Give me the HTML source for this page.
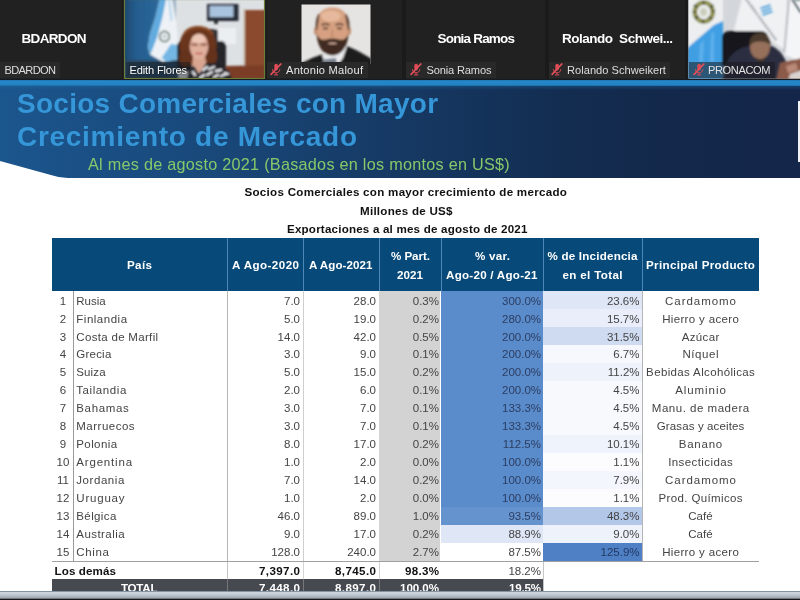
<!DOCTYPE html>
<html lang="es"><head><meta charset="utf-8"><title>Socios Comerciales con Mayor Crecimiento de Mercado</title>
<style>
html,body{margin:0;padding:0;}
body{width:800px;height:600px;overflow:hidden;background:#fff;position:relative;font-family:"Liberation Sans",Arial,sans-serif;}
.t{position:absolute;line-height:1;white-space:pre;}
.b{position:absolute;}
svg{position:absolute;display:block;}
</style></head><body>

<div class="b" style="left:0px;top:0px;width:800px;height:80px;background:#1b1b1b;"></div>
<div class="b" style="left:0px;top:0px;width:122px;height:78.5px;background:#212121;"></div>
<div class="b" style="left:267px;top:0px;width:135px;height:78.5px;background:#212121;"></div>
<div class="b" style="left:406px;top:0px;width:139px;height:78.5px;background:#212121;"></div>
<div class="b" style="left:549px;top:0px;width:136px;height:78.5px;background:#212121;"></div>
<svg style="left:0;top:0" width="800" height="80" viewBox="0 0 800 80">
<defs>
<filter id="f1" x="-10%" y="-10%" width="120%" height="120%"><feGaussianBlur stdDeviation="0.8"/></filter>
<filter id="f2" x="-10%" y="-10%" width="120%" height="120%"><feGaussianBlur stdDeviation="1.6"/></filter>
<clipPath id="cE"><rect x="125" y="0" width="139" height="78"/></clipPath>
<clipPath id="cA"><rect x="301.500" y="4.500" width="69" height="59.500"/></clipPath>
<clipPath id="cP"><rect x="688.500" y="0" width="111.500" height="78.500"/></clipPath>
<linearGradient id="gw" x1="0" x2="1"><stop offset="0" stop-color="#1b3f63"/><stop offset="0.3" stop-color="#245d8e"/><stop offset="1" stop-color="#2f6fa2"/></linearGradient>
</defs>
<!-- Edith Flores video -->
<g clip-path="url(#cE)">
 <rect x="125" y="0" width="139" height="78" fill="#dde1e4"/>
 <g filter="url(#f1)">
  <rect x="120" y="-4" width="53" height="86" fill="url(#gw)"/>
  <rect x="172" y="-4" width="4" height="86" fill="#9fb4c6"/>
  <rect x="120" y="60" width="58" height="22" fill="#2b4863"/>
  <!-- flag -->
  <path d="M160 -2 L172 -2 L176.300 22.500 L178.300 45 L177 58 L163 62 L150 54.500 L148 47 L150 34 L155.600 17 Z" fill="#eef2f6"/>
  <path d="M160 -2 L166.300 -2 L162.500 17 L157 37.500 L150.500 54.500 L148 47 L150 34 L155.600 17 Z" fill="#62abdf"/>
  <path d="M171 44 L178.300 45 L177.200 59 L167 62 L161.500 58 Z" fill="#74b7e4"/>
  <path d="M168 -2 L170 -2 L172.500 20 L170.500 22 Z" fill="#b5d6ee"/>
  <ellipse cx="164.500" cy="36.500" rx="4.800" ry="5.200" fill="none" stroke="#6c7d72" stroke-width="1.700"/>
  <ellipse cx="164.500" cy="36.500" rx="1.800" ry="2" fill="#b9c7c9"/>
  <!-- tv -->
  <rect x="207" y="4" width="31.500" height="17" fill="#262b35"/>
  <rect x="209.500" y="6" width="24" height="11" fill="#a9c2de"/>
  <rect x="214" y="21" width="4" height="3" fill="#333"/>
  <!-- wall papers -->
  <rect x="214" y="28" width="22" height="16" fill="#eceff1"/>
  <!-- door -->
  <rect x="243.500" y="9" width="2" height="57" fill="#c9b9aa"/>
  <rect x="245" y="10" width="22" height="56" fill="#8b4a2d"/>
  <!-- desk -->
  <path d="M226 66 L268 65 L268 82 L222 82 Z" fill="#7b3d27"/>
  <!-- chair -->
  <rect x="177" y="41" width="49" height="30" rx="5" fill="#26282b"/>
  <rect x="208" y="29" width="10" height="16" rx="3" fill="#34363a"/>
  <!-- hair -->
  <ellipse cx="198" cy="46" rx="18.500" ry="20" fill="#6b351c"/>
  <ellipse cx="185.500" cy="58" rx="6.500" ry="9" fill="#65321b"/>
  <ellipse cx="211.500" cy="56" rx="6" ry="9" fill="#65321b"/>
  <path d="M184 34 C190 25,206 25,213 34" stroke="#8a4a26" stroke-width="2.500" fill="none"/>
  <!-- neck -->
  <path d="M193 57 L205 57 L207 66 L199 73 L192 67 Z" fill="#d9a590"/>
  <!-- face -->
  <ellipse cx="199" cy="46.500" rx="9.300" ry="13" fill="#e0b09d"/>
  <ellipse cx="198.500" cy="39" rx="6.500" ry="4.500" fill="#ecc6b6"/>
  <path d="M191.500 45h6.300M200.500 45h6.300" stroke="#8a5a4a" stroke-width="1.500"/>
  <path d="M190.500 43.500h8M200 43.500h8" stroke="#a06a50" stroke-width=".8" opacity=".8"/>
  <path d="M195.500 53.500h7" stroke="#c0564e" stroke-width="1.500"/>
  <!-- clothes -->
  <path d="M187 82 L190 68 L194 66 L199 74 L206 63 L218 64 L229 71 L233 82 Z" fill="#20222b"/>
  <path d="M203 70l4 -3M209 69l5-2M216 71l5 -1M207 75l5-3M200 78l4 -3M221 76l5 -2M214 77l4-2M193 72l2 3M225 73l3 1" stroke="#e9e9ee" stroke-width="2.300" stroke-linecap="round"/>
 </g>
</g>
<rect x="124.500" y="-0.500" width="140" height="79" fill="none" stroke="#6b7c3a" stroke-width="1.200"/>
<!-- Antonio Malouf photo -->
<g clip-path="url(#cA)">
 <rect x="301" y="4" width="70" height="74" fill="#e5e4e2"/>
 <g filter="url(#f1)">
  <!-- suit -->
  <path d="M296 66 L312 58 L323 54 L332 60 L347 46 L358 51 L372 59 L372 80 L296 80 Z" fill="#1a1a1c"/>
  <!-- shirt + tie -->
  <path d="M322 55 L332 50 L347 46.500 L343 58 L337 66 L326 66 Z" fill="#ebebee"/>
  <path d="M323 59.500 L336 58 L338 70 L321 70 Z" fill="#76808c"/>
  <!-- ears / side hair -->
  <ellipse cx="316" cy="31" rx="2" ry="4" fill="#c48e70"/>
  <ellipse cx="349" cy="31" rx="2" ry="4" fill="#c48e70"/>
  <!-- head -->
  <path d="M316.500 30 C315.500 14,322 7.500,332.500 7.500 C343 7.500,349.500 14,348.500 30 C348.500 44,342 55,332.500 55 C323 55,316.500 44,316.500 30 Z" fill="#d6a081"/>
  <ellipse cx="331" cy="16" rx="10" ry="5.500" fill="#e6b99c"/>
  <path d="M345.500 14 C348.500 18,349.500 24,348.600 30 C347.500 26,346.500 20,345.500 14Z M319 14 C316.500 18,315.800 24,316.500 30 C317.500 26,318 20,319 14Z" fill="#5a4032" stroke="#5a4032" stroke-width="1.200"/>
  <!-- beard -->
  <path d="M316.500 33 C317 46,323 55.500,332.500 55.500 C342 55.500,348 46,348.600 33 C346.500 39,343 40.500,339 39.500 C335 38,330 38,326 39.500 C322 40.500,318.500 39,316.500 33 Z" fill="#3f2c22"/>
  <path d="M327.500 43.200 C330 42.200,335 42.200,337.500 43.200 C335 44.600,330 44.600,327.500 43.200Z" fill="#d9b3a0"/>
  <!-- brows, eyes, nose -->
  <path d="M321.500 25 C324 23.800,327 23.800,329.500 25M335.500 25 C338 23.800,341 23.800,343.500 25" stroke="#3a2a22" stroke-width="1.400" fill="none"/>
  <path d="M323 28.300h5M337 28.300h5" stroke="#4a3428" stroke-width="1.700"/>
  <path d="M332.500 29 L331.500 35.500 L334 35.500" stroke="#b98466" stroke-width="1.200" fill="none"/>
 </g>
</g>
<!-- PRONACOM video -->
<g clip-path="url(#cP)">
 <rect x="688" y="0" width="112" height="79" fill="#d3d6da"/>
 <g filter="url(#f1)">
  <!-- left flag -->
  <path d="M686 -2 L723 -2 L723 82 L686 82 Z" fill="#eceef0"/>
  <path d="M723 21 L723 82 L686 82 L686 49 L714 25 Z" fill="#3f9fe3"/>
  <path d="M700 44 L704 40 L703 62 L699 62Z M711 34 L714 31 L714 62 L710 62Z" fill="#6bb8ee" opacity=".7"/>
  <ellipse cx="703.800" cy="12" rx="9" ry="9.500" fill="none" stroke="#8f9150" stroke-width="4.600"/>
  <path d="M694 5l3.500 2.500M713 5l-3 3M695 18l3.500-1.500M712 19l-3.500-2M703.500 1v3.500M693 12h3M712 11h3M702 20l2 3" stroke="#3f4636" stroke-width="2"/>
  <ellipse cx="703.500" cy="12" rx="3.500" ry="4" fill="#c9cdb8"/>
  <!-- centre banner -->
  <path d="M742 -2 L788 -2 L785 50 L770 40 L734 30 Z" fill="#f0f1f3"/>
  <path d="M746 -1 L776 40" stroke="#8a9098" stroke-width="2.400" stroke-dasharray="2.200 1.300"/>
  <path d="M752 6 L764 24" stroke="#aab0b8" stroke-width="1.200" stroke-dasharray="1.500 1.500"/>
  <path d="M760.500 8.500l10-3.500M761.500 11.800l10-3.500M762.500 15l10-3.500" stroke="#36a3dc" stroke-width="2.100"/>
  <!-- right flag -->
  <path d="M784.500 52 L789 -2" stroke="#aeb2b8" stroke-width="2"/>
  <path d="M790 -2 L802 -2 L802 62 L785 55 Z" fill="#f4f5f6"/>
  <path d="M792 -1 L801 13" stroke="#35505c" stroke-width="2.200"/>
  <path d="M795 0h6" stroke="#4b7a6a" stroke-width="2"/>
  <!-- chair -->
  <path d="M722 66 L722 38 Q722 31 730 31 L760 31 Q768 31 768 38 L768 66 Z" fill="#15161a"/>
  <!-- man -->
  <path d="M726 64 C730 54,738 48,748 46 L772 46 C780 50,784 56,787 64 L790 82 L722 82 Z" fill="#2a2f40"/>
  <ellipse cx="760" cy="47" rx="10" ry="12.500" fill="#96705a"/>
  <path d="M750.200 44 C750 30,770 30,770 44 C766 39.500,754 39.500,750.200 44Z" fill="#4c3b2e" stroke="#4c3b2e" stroke-width="1.500"/>
  <path d="M756 57 C758 60,763 60,765 57 L764 62 L757 62Z" fill="#3a2f2a"/>
  <!-- hands / desk -->
  <path d="M780 63 L802 58 L802 82 L776 82 Z" fill="#8c5a4a"/>
  <path d="M786 66 L796 63 L798 70 L788 73Z" fill="#b98a78"/>
  <path d="M790 74 L802 70 L802 82 L788 82Z" fill="#d9d2cf"/>
 </g>
</g>
</svg>

<div class="t" style="left:21.50px;top:32.49px;font-size:13.5px;font-weight:700;color:#fff;letter-spacing:-0.666px;">BDARDON</div>
<div class="t" style="left:437.50px;top:32.49px;font-size:13.5px;font-weight:700;color:#fff;letter-spacing:-0.802px;">Sonia Ramos</div>
<div class="t" style="left:562.00px;top:32.49px;font-size:13.5px;font-weight:700;color:#fff;letter-spacing:-0.486px;">Rolando  Schwei...</div>
<div class="b" style="left:0px;top:62px;width:60px;height:15.8px;background:#292929;"></div>
<div class="t" style="left:4.50px;top:64.55px;font-size:11.1px;color:#dedede;letter-spacing:-0.668px;">BDARDON</div>
<div class="b" style="left:126px;top:62px;width:64px;height:15.8px;background:rgba(20,25,30,0.45);"></div>
<div class="t" style="left:129.50px;top:64.55px;font-size:11.1px;color:#fff;letter-spacing:-0.156px;text-shadow:0 0 2px rgba(0,0,0,.6);">Edith Flores</div>
<div class="b" style="left:267px;top:62px;width:101px;height:15.8px;background:#292929;"></div>
<div class="t" style="left:286.00px;top:64.55px;font-size:11.1px;color:#e6e6e6;letter-spacing:0.228px;">Antonio Malouf</div>
<div class="b" style="left:406px;top:62px;width:90px;height:15.8px;background:#292929;"></div>
<div class="t" style="left:426.50px;top:64.55px;font-size:11.1px;color:#dedede;letter-spacing:-0.163px;">Sonia Ramos</div>
<div class="b" style="left:549px;top:62px;width:121px;height:15.8px;background:#292929;"></div>
<div class="t" style="left:567.00px;top:64.55px;font-size:11.1px;color:#dedede;letter-spacing:0.017px;">Rolando Schweikert</div>
<div class="b" style="left:689px;top:62px;width:86px;height:15.8px;background:rgba(25,25,30,0.55);"></div>
<div class="t" style="left:708.00px;top:64.55px;font-size:11.1px;color:#e2e2e2;letter-spacing:-0.410px;">PRONACOM</div>
<svg style="left:269.5px;top:63px" width="12" height="13" viewBox="0 0 12 13"><rect x="4.300" y="0.800" width="3.600" height="6.800" rx="1.800" fill="#de4a55"/><path d="M2.400 6.200c0 2.300 1.600 3.600 3.700 3.600s3.700-1.300 3.700-3.600M6.100 9.800v1.800M4 11.900h4.200" stroke="#de4a55" stroke-width="1" fill="none"/><path d="M11.300 0.500L0.600 11.800" stroke="#e2505a" stroke-width="1.700"/></svg>
<svg style="left:410px;top:63px" width="12" height="13" viewBox="0 0 12 13"><rect x="4.300" y="0.800" width="3.600" height="6.800" rx="1.800" fill="#de4a55"/><path d="M2.400 6.200c0 2.300 1.600 3.600 3.700 3.600s3.700-1.300 3.700-3.600M6.100 9.800v1.800M4 11.900h4.200" stroke="#de4a55" stroke-width="1" fill="none"/><path d="M11.300 0.500L0.600 11.800" stroke="#e2505a" stroke-width="1.700"/></svg>
<svg style="left:551px;top:63px" width="12" height="13" viewBox="0 0 12 13"><rect x="4.300" y="0.800" width="3.600" height="6.800" rx="1.800" fill="#de4a55"/><path d="M2.400 6.200c0 2.300 1.600 3.600 3.700 3.600s3.700-1.300 3.700-3.600M6.100 9.800v1.800M4 11.900h4.200" stroke="#de4a55" stroke-width="1" fill="none"/><path d="M11.300 0.500L0.600 11.800" stroke="#e2505a" stroke-width="1.700"/></svg>
<svg style="left:693px;top:63px" width="12" height="13" viewBox="0 0 12 13"><rect x="4.300" y="0.800" width="3.600" height="6.800" rx="1.800" fill="#de4a55"/><path d="M2.400 6.200c0 2.300 1.600 3.600 3.700 3.600s3.700-1.300 3.700-3.600M6.100 9.800v1.800M4 11.900h4.200" stroke="#de4a55" stroke-width="1" fill="none"/><path d="M11.300 0.500L0.600 11.800" stroke="#e2505a" stroke-width="1.700"/></svg>
<div class="b" style="left:0px;top:78.5px;width:800px;height:2px;background:#171c22;"></div>
<div class="b" style="left:0px;top:79.8px;width:800px;height:5.9px;background:linear-gradient(180deg,#1e6ea6 0,#2587c8 1px,#2284c4 4.5px,#1d6aa2 5.9px);"></div>
<div class="b" style="left:0px;top:85.5px;width:800px;height:92px;background:linear-gradient(90deg,#1b568d 0%,#1a4f84 12%,#19497b 25%,#173f6c 40%,#15365f 55%,#132d51 70%,#13284a 85%,#14264a 100%);"></div>
<div class="b" style="left:0px;top:85.5px;width:800px;height:4px;background:linear-gradient(180deg,rgba(30,110,170,.35),rgba(30,110,170,0));"></div>
<div class="b" style="left:798.3px;top:100.8px;width:1.7px;height:61.2px;background:#f1f3f5;"></div>
<svg style="left:0;top:150px" width="90" height="30" viewBox="0 0 90 30"><path d="M0 11 L30 19.300 L50 24.800 Q59 28 68 28 L90 28 L90 30 L0 30 Z" fill="#fff"/></svg>
<div class="t" style="left:17.00px;top:90.10px;font-size:28px;font-weight:700;color:#3596d8;letter-spacing:0.263px;">Socios Comerciales con Mayor</div>
<div class="t" style="left:17.00px;top:122.90px;font-size:28px;font-weight:700;color:#3596d8;letter-spacing:0.706px;">Crecimiento de Mercado</div>
<div class="t" style="left:88.00px;top:155.59px;font-size:16.2px;color:#86c86a;letter-spacing:0.276px;">Al mes de agosto 2021 (Basados en los montos en US$)</div>
<div class="t" style="left:244.50px;top:186.41px;font-size:11.6px;font-weight:700;color:#111;letter-spacing:0.274px;">Socios Comerciales con mayor crecimiento de mercado</div>
<div class="t" style="left:360.00px;top:204.91px;font-size:11.6px;font-weight:700;color:#111;letter-spacing:0.254px;">Millones de US$</div>
<div class="t" style="left:287.00px;top:223.41px;font-size:11.6px;font-weight:700;color:#111;letter-spacing:0.199px;">Exportaciones a al mes de agosto de 2021</div>
<div class="b" style="left:52px;top:238.2px;width:707px;height:52.900000000000034px;background:#074a79;"></div>
<div class="b" style="left:226.5px;top:238.2px;width:1px;height:52.900000000000034px;background:#4d87b6;"></div>
<div class="b" style="left:302.5px;top:238.2px;width:1px;height:52.900000000000034px;background:#4d87b6;"></div>
<div class="b" style="left:378.7px;top:238.2px;width:1px;height:52.900000000000034px;background:#4d87b6;"></div>
<div class="b" style="left:441.3px;top:238.2px;width:1px;height:52.900000000000034px;background:#4d87b6;"></div>
<div class="b" style="left:543px;top:238.2px;width:1px;height:52.900000000000034px;background:#4d87b6;"></div>
<div class="b" style="left:642px;top:238.2px;width:1px;height:52.900000000000034px;background:#4d87b6;"></div>
<div class="t" style="left:127.00px;top:258.91px;font-size:11.6px;font-weight:700;color:#fff;letter-spacing:0.379px;">País</div>
<div class="t" style="left:232.00px;top:258.91px;font-size:11.6px;font-weight:700;color:#fff;letter-spacing:0.450px;">A Ago-2020</div>
<div class="t" style="left:309.00px;top:258.91px;font-size:11.6px;font-weight:700;color:#fff;letter-spacing:0.061px;">A Ago-2021</div>
<div class="t" style="left:391.00px;top:250.41px;font-size:11.6px;font-weight:700;color:#fff;letter-spacing:-0.054px;">% Part.</div>
<div class="t" style="left:397.00px;top:268.91px;font-size:11.6px;font-weight:700;color:#fff;letter-spacing:0.066px;">2021</div>
<div class="t" style="left:475.00px;top:250.41px;font-size:11.6px;font-weight:700;color:#fff;letter-spacing:0.293px;">% var.</div>
<div class="t" style="left:446.00px;top:268.91px;font-size:11.6px;font-weight:700;color:#fff;letter-spacing:0.260px;">Ago-20 / Ago-21</div>
<div class="t" style="left:547.50px;top:250.41px;font-size:11.6px;font-weight:700;color:#fff;letter-spacing:0.213px;">% de Incidencia</div>
<div class="t" style="left:562.50px;top:268.91px;font-size:11.6px;font-weight:700;color:#fff;letter-spacing:0.350px;">en el Total</div>
<div class="t" style="left:646.00px;top:258.91px;font-size:11.6px;font-weight:700;color:#fff;letter-spacing:0.346px;">Principal Producto</div>
<div class="b" style="left:378.7px;top:291px;width:61.800000000000026px;height:270px;background:#d3d3d3;"></div>
<div class="b" style="left:441.3px;top:291px;width:101.69999999999999px;height:234px;background:#5a8bca;"></div>
<div class="b" style="left:441.3px;top:507px;width:101.69999999999999px;height:18px;background:#6593ce;"></div>
<div class="b" style="left:441.3px;top:525px;width:101.69999999999999px;height:18px;background:#dfe6f6;"></div>
<div class="b" style="left:543px;top:291px;width:99px;height:18px;background:#dfe7f7;"></div>
<div class="b" style="left:543px;top:309px;width:99px;height:18px;background:#e9eefa;"></div>
<div class="b" style="left:543px;top:327px;width:99px;height:18px;background:#cfdbf1;"></div>
<div class="b" style="left:543px;top:345px;width:99px;height:18px;background:#f6f8fd;"></div>
<div class="b" style="left:543px;top:363px;width:99px;height:18px;background:#eef2fb;"></div>
<div class="b" style="left:543px;top:381px;width:99px;height:18px;background:#f8f9fd;"></div>
<div class="b" style="left:543px;top:399px;width:99px;height:18px;background:#f8f9fd;"></div>
<div class="b" style="left:543px;top:417px;width:99px;height:18px;background:#f8f9fd;"></div>
<div class="b" style="left:543px;top:435px;width:99px;height:18px;background:#eff3fb;"></div>
<div class="b" style="left:543px;top:453px;width:99px;height:18px;background:#fcfcff;"></div>
<div class="b" style="left:543px;top:471px;width:99px;height:18px;background:#f3f6fc;"></div>
<div class="b" style="left:543px;top:489px;width:99px;height:18px;background:#fcfcff;"></div>
<div class="b" style="left:543px;top:507px;width:99px;height:18px;background:#b3c7e8;"></div>
<div class="b" style="left:543px;top:525px;width:99px;height:18px;background:#eef2fb;"></div>
<div class="b" style="left:543px;top:543px;width:99px;height:18px;background:#4f7fc4;"></div>
<div class="b" style="left:73px;top:291px;width:1px;height:270px;background:#9a9a9a;"></div>
<div class="b" style="left:226.5px;top:291px;width:1px;height:270px;background:#b5b5b5;"></div>
<div class="b" style="left:302.5px;top:291px;width:1px;height:270px;background:#cfcfcf;"></div>
<div class="b" style="left:642px;top:291px;width:1px;height:270px;background:#b5b5b5;"></div>
<div class="b" style="left:226.5px;top:561px;width:1px;height:18px;background:#c5c5c5;"></div>
<div class="b" style="left:302.5px;top:561px;width:1px;height:18px;background:#d5d5d5;"></div>
<div class="b" style="left:378.7px;top:561px;width:1px;height:18px;background:#d5d5d5;"></div>
<div class="b" style="left:543px;top:561px;width:1px;height:30px;background:#c5c5c5;"></div>
<div class="b" style="left:52px;top:561px;width:707px;height:1px;background:#a0a0a0;"></div>
<div class="t" style="left:59.80px;top:295.66px;font-size:11.5px;color:#444;">1</div>
<div class="t" style="left:76.30px;top:295.66px;font-size:11.5px;color:#444;letter-spacing:-0.038px;">Rusia</div>
<div class="t" style="left:284.01px;top:295.66px;font-size:11.5px;color:#444;">7.0</div>
<div class="t" style="left:353.62px;top:295.66px;font-size:11.5px;color:#444;">28.0</div>
<div class="t" style="left:412.79px;top:295.66px;font-size:11.5px;color:#444;">0.3%</div>
<div class="t" style="left:502.00px;top:295.66px;font-size:11.5px;color:#2c3e63;">300.0%</div>
<div class="t" style="left:606.89px;top:295.66px;font-size:11.5px;color:#444;">23.6%</div>
<div class="t" style="left:665.00px;top:295.66px;font-size:11.5px;color:#444;letter-spacing:0.967px;">Cardamomo</div>
<div class="t" style="left:59.80px;top:313.60px;font-size:11.5px;color:#444;">2</div>
<div class="t" style="left:76.30px;top:313.60px;font-size:11.5px;color:#444;letter-spacing:0.511px;">Finlandia</div>
<div class="t" style="left:284.01px;top:313.60px;font-size:11.5px;color:#444;">5.0</div>
<div class="t" style="left:353.62px;top:313.60px;font-size:11.5px;color:#444;">19.0</div>
<div class="t" style="left:412.79px;top:313.60px;font-size:11.5px;color:#444;">0.2%</div>
<div class="t" style="left:502.00px;top:313.60px;font-size:11.5px;color:#2c3e63;">280.0%</div>
<div class="t" style="left:606.89px;top:313.60px;font-size:11.5px;color:#444;">15.7%</div>
<div class="t" style="left:662.15px;top:313.60px;font-size:11.5px;color:#444;letter-spacing:0.345px;">Hierro y acero</div>
<div class="t" style="left:59.80px;top:331.54px;font-size:11.5px;color:#444;">3</div>
<div class="t" style="left:76.30px;top:331.54px;font-size:11.5px;color:#444;letter-spacing:0.316px;">Costa de Marfil</div>
<div class="t" style="left:277.62px;top:331.54px;font-size:11.5px;color:#444;">14.0</div>
<div class="t" style="left:353.62px;top:331.54px;font-size:11.5px;color:#444;">42.0</div>
<div class="t" style="left:412.79px;top:331.54px;font-size:11.5px;color:#444;">0.5%</div>
<div class="t" style="left:502.00px;top:331.54px;font-size:11.5px;color:#2c3e63;">200.0%</div>
<div class="t" style="left:606.89px;top:331.54px;font-size:11.5px;color:#444;">31.5%</div>
<div class="t" style="left:681.75px;top:331.54px;font-size:11.5px;color:#444;letter-spacing:0.342px;">Azúcar</div>
<div class="t" style="left:59.80px;top:349.48px;font-size:11.5px;color:#444;">4</div>
<div class="t" style="left:76.30px;top:349.48px;font-size:11.5px;color:#444;letter-spacing:0.226px;">Grecia</div>
<div class="t" style="left:284.01px;top:349.48px;font-size:11.5px;color:#444;">3.0</div>
<div class="t" style="left:360.01px;top:349.48px;font-size:11.5px;color:#444;">9.0</div>
<div class="t" style="left:412.79px;top:349.48px;font-size:11.5px;color:#444;">0.1%</div>
<div class="t" style="left:502.00px;top:349.48px;font-size:11.5px;color:#2c3e63;">200.0%</div>
<div class="t" style="left:613.29px;top:349.48px;font-size:11.5px;color:#444;">6.7%</div>
<div class="t" style="left:682.38px;top:349.48px;font-size:11.5px;color:#444;letter-spacing:0.602px;">Níquel</div>
<div class="t" style="left:59.80px;top:367.42px;font-size:11.5px;color:#444;">5</div>
<div class="t" style="left:76.30px;top:367.42px;font-size:11.5px;color:#444;letter-spacing:0.121px;">Suiza</div>
<div class="t" style="left:284.01px;top:367.42px;font-size:11.5px;color:#444;">5.0</div>
<div class="t" style="left:353.62px;top:367.42px;font-size:11.5px;color:#444;">15.0</div>
<div class="t" style="left:412.79px;top:367.42px;font-size:11.5px;color:#444;">0.2%</div>
<div class="t" style="left:502.00px;top:367.42px;font-size:11.5px;color:#2c3e63;">200.0%</div>
<div class="t" style="left:607.75px;top:367.42px;font-size:11.5px;color:#444;">11.2%</div>
<div class="t" style="left:646.12px;top:367.42px;font-size:11.5px;color:#444;letter-spacing:0.359px;">Bebidas Alcohólicas</div>
<div class="t" style="left:59.80px;top:385.36px;font-size:11.5px;color:#444;">6</div>
<div class="t" style="left:76.30px;top:385.36px;font-size:11.5px;color:#444;letter-spacing:0.576px;">Tailandia</div>
<div class="t" style="left:284.01px;top:385.36px;font-size:11.5px;color:#444;">2.0</div>
<div class="t" style="left:360.01px;top:385.36px;font-size:11.5px;color:#444;">6.0</div>
<div class="t" style="left:412.79px;top:385.36px;font-size:11.5px;color:#444;">0.1%</div>
<div class="t" style="left:502.00px;top:385.36px;font-size:11.5px;color:#2c3e63;">200.0%</div>
<div class="t" style="left:613.29px;top:385.36px;font-size:11.5px;color:#444;">4.5%</div>
<div class="t" style="left:675.15px;top:385.36px;font-size:11.5px;color:#444;letter-spacing:0.943px;">Aluminio</div>
<div class="t" style="left:59.80px;top:403.30px;font-size:11.5px;color:#444;">7</div>
<div class="t" style="left:76.30px;top:403.30px;font-size:11.5px;color:#444;letter-spacing:0.653px;">Bahamas</div>
<div class="t" style="left:284.01px;top:403.30px;font-size:11.5px;color:#444;">3.0</div>
<div class="t" style="left:360.01px;top:403.30px;font-size:11.5px;color:#444;">7.0</div>
<div class="t" style="left:412.79px;top:403.30px;font-size:11.5px;color:#444;">0.1%</div>
<div class="t" style="left:502.00px;top:403.30px;font-size:11.5px;color:#2c3e63;">133.3%</div>
<div class="t" style="left:613.29px;top:403.30px;font-size:11.5px;color:#444;">4.5%</div>
<div class="t" style="left:651.85px;top:403.30px;font-size:11.5px;color:#444;letter-spacing:0.512px;">Manu. de madera</div>
<div class="t" style="left:59.80px;top:421.24px;font-size:11.5px;color:#444;">8</div>
<div class="t" style="left:76.30px;top:421.24px;font-size:11.5px;color:#444;letter-spacing:0.492px;">Marruecos</div>
<div class="t" style="left:284.01px;top:421.24px;font-size:11.5px;color:#444;">3.0</div>
<div class="t" style="left:360.01px;top:421.24px;font-size:11.5px;color:#444;">7.0</div>
<div class="t" style="left:412.79px;top:421.24px;font-size:11.5px;color:#444;">0.1%</div>
<div class="t" style="left:502.00px;top:421.24px;font-size:11.5px;color:#2c3e63;">133.3%</div>
<div class="t" style="left:613.29px;top:421.24px;font-size:11.5px;color:#444;">4.5%</div>
<div class="t" style="left:656.75px;top:421.24px;font-size:11.5px;color:#444;letter-spacing:0.124px;">Grasas y aceites</div>
<div class="t" style="left:59.80px;top:439.18px;font-size:11.5px;color:#444;">9</div>
<div class="t" style="left:76.30px;top:439.18px;font-size:11.5px;color:#444;letter-spacing:0.398px;">Polonia</div>
<div class="t" style="left:284.01px;top:439.18px;font-size:11.5px;color:#444;">8.0</div>
<div class="t" style="left:353.62px;top:439.18px;font-size:11.5px;color:#444;">17.0</div>
<div class="t" style="left:412.79px;top:439.18px;font-size:11.5px;color:#444;">0.2%</div>
<div class="t" style="left:502.85px;top:439.18px;font-size:11.5px;color:#2c3e63;">112.5%</div>
<div class="t" style="left:606.89px;top:439.18px;font-size:11.5px;color:#444;">10.1%</div>
<div class="t" style="left:678.80px;top:439.18px;font-size:11.5px;color:#444;letter-spacing:0.751px;">Banano</div>
<div class="t" style="left:56.60px;top:457.12px;font-size:11.5px;color:#444;">10</div>
<div class="t" style="left:76.30px;top:457.12px;font-size:11.5px;color:#444;letter-spacing:0.816px;">Argentina</div>
<div class="t" style="left:284.01px;top:457.12px;font-size:11.5px;color:#444;">1.0</div>
<div class="t" style="left:360.01px;top:457.12px;font-size:11.5px;color:#444;">2.0</div>
<div class="t" style="left:412.79px;top:457.12px;font-size:11.5px;color:#444;">0.0%</div>
<div class="t" style="left:502.00px;top:457.12px;font-size:11.5px;color:#2c3e63;">100.0%</div>
<div class="t" style="left:613.29px;top:457.12px;font-size:11.5px;color:#444;">1.1%</div>
<div class="t" style="left:668.15px;top:457.12px;font-size:11.5px;color:#444;letter-spacing:0.420px;">Insecticidas</div>
<div class="t" style="left:57.03px;top:475.06px;font-size:11.5px;color:#444;">11</div>
<div class="t" style="left:76.30px;top:475.06px;font-size:11.5px;color:#444;letter-spacing:0.556px;">Jordania</div>
<div class="t" style="left:284.01px;top:475.06px;font-size:11.5px;color:#444;">7.0</div>
<div class="t" style="left:353.62px;top:475.06px;font-size:11.5px;color:#444;">14.0</div>
<div class="t" style="left:412.79px;top:475.06px;font-size:11.5px;color:#444;">0.2%</div>
<div class="t" style="left:502.00px;top:475.06px;font-size:11.5px;color:#2c3e63;">100.0%</div>
<div class="t" style="left:613.29px;top:475.06px;font-size:11.5px;color:#444;">7.9%</div>
<div class="t" style="left:665.00px;top:475.06px;font-size:11.5px;color:#444;letter-spacing:0.967px;">Cardamomo</div>
<div class="t" style="left:56.60px;top:493.00px;font-size:11.5px;color:#444;">12</div>
<div class="t" style="left:76.30px;top:493.00px;font-size:11.5px;color:#444;letter-spacing:0.798px;">Uruguay</div>
<div class="t" style="left:284.01px;top:493.00px;font-size:11.5px;color:#444;">1.0</div>
<div class="t" style="left:360.01px;top:493.00px;font-size:11.5px;color:#444;">2.0</div>
<div class="t" style="left:412.79px;top:493.00px;font-size:11.5px;color:#444;">0.0%</div>
<div class="t" style="left:502.00px;top:493.00px;font-size:11.5px;color:#2c3e63;">100.0%</div>
<div class="t" style="left:613.29px;top:493.00px;font-size:11.5px;color:#444;">1.1%</div>
<div class="t" style="left:658.50px;top:493.00px;font-size:11.5px;color:#444;letter-spacing:0.366px;">Prod. Químicos</div>
<div class="t" style="left:56.60px;top:510.94px;font-size:11.5px;color:#444;">13</div>
<div class="t" style="left:76.30px;top:510.94px;font-size:11.5px;color:#444;letter-spacing:0.381px;">Bélgica</div>
<div class="t" style="left:277.62px;top:510.94px;font-size:11.5px;color:#444;">46.0</div>
<div class="t" style="left:353.62px;top:510.94px;font-size:11.5px;color:#444;">89.0</div>
<div class="t" style="left:412.79px;top:510.94px;font-size:11.5px;color:#444;">1.0%</div>
<div class="t" style="left:508.39px;top:510.94px;font-size:11.5px;color:#2c3e63;">93.5%</div>
<div class="t" style="left:606.89px;top:510.94px;font-size:11.5px;color:#444;">48.3%</div>
<div class="t" style="left:688.25px;top:510.94px;font-size:11.5px;color:#444;letter-spacing:0.070px;">Café</div>
<div class="t" style="left:56.60px;top:528.88px;font-size:11.5px;color:#444;">14</div>
<div class="t" style="left:76.30px;top:528.88px;font-size:11.5px;color:#444;letter-spacing:0.439px;">Australia</div>
<div class="t" style="left:284.01px;top:528.88px;font-size:11.5px;color:#444;">9.0</div>
<div class="t" style="left:353.62px;top:528.88px;font-size:11.5px;color:#444;">17.0</div>
<div class="t" style="left:412.79px;top:528.88px;font-size:11.5px;color:#444;">0.2%</div>
<div class="t" style="left:508.39px;top:528.88px;font-size:11.5px;color:#444;">88.9%</div>
<div class="t" style="left:613.29px;top:528.88px;font-size:11.5px;color:#444;">9.0%</div>
<div class="t" style="left:688.25px;top:528.88px;font-size:11.5px;color:#444;letter-spacing:0.070px;">Café</div>
<div class="t" style="left:56.60px;top:546.82px;font-size:11.5px;color:#444;">15</div>
<div class="t" style="left:76.30px;top:546.82px;font-size:11.5px;color:#444;letter-spacing:0.614px;">China</div>
<div class="t" style="left:271.22px;top:546.82px;font-size:11.5px;color:#444;">128.0</div>
<div class="t" style="left:347.22px;top:546.82px;font-size:11.5px;color:#444;">240.0</div>
<div class="t" style="left:412.79px;top:546.82px;font-size:11.5px;color:#444;">2.7%</div>
<div class="t" style="left:508.39px;top:546.82px;font-size:11.5px;color:#444;">87.5%</div>
<div class="t" style="left:600.50px;top:546.82px;font-size:11.5px;color:#233a63;">125.9%</div>
<div class="t" style="left:662.15px;top:546.82px;font-size:11.5px;color:#444;letter-spacing:0.345px;">Hierro y acero</div>
<div class="t" style="left:54.50px;top:565.31px;font-size:11.6px;font-weight:700;color:#111;letter-spacing:0.113px;">Los demás</div>
<div class="t" style="left:259.00px;top:565.31px;font-size:11.6px;font-weight:700;color:#111;letter-spacing:0.384px;">7,397.0</div>
<div class="t" style="left:335.00px;top:565.31px;font-size:11.6px;font-weight:700;color:#111;letter-spacing:0.384px;">8,745.0</div>
<div class="t" style="left:405.00px;top:565.31px;font-size:11.6px;font-weight:700;color:#111;letter-spacing:0.278px;">98.3%</div>
<div class="t" style="left:508.39px;top:565.76px;font-size:11.5px;color:#444;">18.2%</div>
<div class="b" style="left:52px;top:579px;width:491px;height:13px;background:#464a50;"></div>
<div class="b" style="left:226.5px;top:579px;width:1px;height:13px;background:#777;"></div>
<div class="b" style="left:302.5px;top:579px;width:1px;height:13px;background:#777;"></div>
<div class="b" style="left:378.7px;top:579px;width:1px;height:13px;background:#777;"></div>
<div class="t" style="left:121.00px;top:582.41px;font-size:11.6px;font-weight:700;color:#fff;letter-spacing:-0.271px;">TOTAL</div>
<div class="t" style="left:259.00px;top:582.41px;font-size:11.6px;font-weight:700;color:#fff;letter-spacing:0.384px;">7,448.0</div>
<div class="t" style="left:335.00px;top:582.41px;font-size:11.6px;font-weight:700;color:#fff;letter-spacing:0.384px;">8,897.0</div>
<div class="t" style="left:400.00px;top:582.41px;font-size:11.6px;font-weight:700;color:#fff;letter-spacing:-0.068px;">100.0%</div>
<div class="t" style="left:509.00px;top:582.41px;font-size:11.6px;font-weight:700;color:#fff;letter-spacing:-0.222px;">19.5%</div>
<div class="b" style="left:0px;top:591px;width:800px;height:9px;background:linear-gradient(180deg,#6d8092 0,#8d9caa 0.7px,#cdd4dc 1.4px,#c2cad3 3.5px,#a3acb7 6.5px,#8c949e 7.4px,#1c1c1c 7.8px,#151515 9px);"></div>
</body></html>
